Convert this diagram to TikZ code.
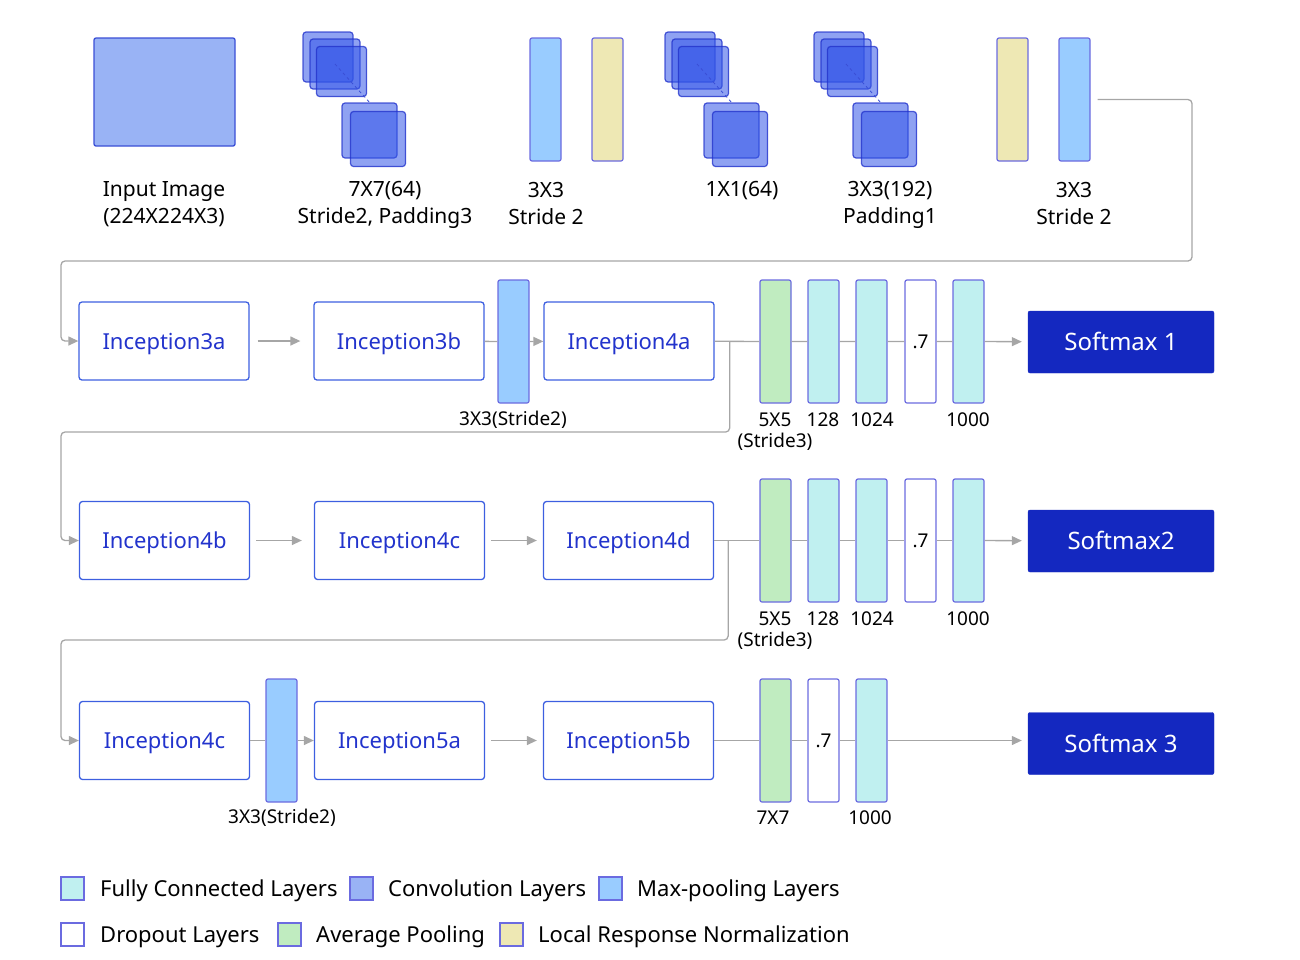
\documentclass[tikz,border=0pt]{standalone}
\usepackage{fontspec}
\setmainfont{Noto Sans}
\usetikzlibrary{arrows.meta}

\definecolor{bordc}{HTML}{6B6BE0}
\definecolor{convb}{HTML}{3A4FD6}
\definecolor{convc}{HTML}{99B3F5}
\definecolor{stackc}{HTML}{3355E8}
\definecolor{poolc}{HTML}{99CCFF}
\definecolor{lrnc}{HTML}{EEE8B4}
\definecolor{fcc}{HTML}{C0F0F0}
\definecolor{avgc}{HTML}{C0ECC0}
\definecolor{incb}{HTML}{3D5FE0}
\definecolor{inct}{HTML}{2233CC}
\definecolor{smc}{HTML}{1428C0}
\definecolor{linec}{HTML}{A6A6A6}

\tikzset{
  layer/.style={draw=bordc, line width=1.2pt, rounded corners=2pt, minimum width=31pt, minimum height=123pt, inner sep=0pt},
  pool/.style={layer, fill=poolc},
  lrn/.style={layer, fill=lrnc},
  fc/.style={layer, fill=fcc},
  avg/.style={layer, fill=avgc},
  drop/.style={layer, fill=white, font=\fontsize{19}{22}\selectfont},
  incep/.style={draw=incb, line width=1.3pt, rounded corners=3pt, minimum width=170pt, minimum height=78pt, text height=16pt, text depth=0pt, text=inct, font=\fontsize{22}{26}\selectfont},
  soft/.style={draw=smc, fill=smc, rounded corners=2pt, minimum width=186pt, minimum height=62pt, text height=17pt, text depth=0pt, text=white, font=\fontsize{24}{28}\selectfont},
  sq/.style={draw=inct, draw opacity=0.8, fill=stackc, fill opacity=0.55, line width=1.2pt, rounded corners=3pt, inner sep=0pt},
  wire/.style={draw=linec, line width=1.3pt},
  conn/.style={wire, -{Triangle[length=10pt,width=9pt]}},
  lab/.style={font=\fontsize{21}{27}\selectfont, align=center},
  note/.style={font=\fontsize{19}{22}\selectfont},
  key/.style={draw=bordc, line width=1.3pt, minimum size=23pt, inner sep=0pt},
  keytext/.style={anchor=west, inner sep=0pt, text height=16pt, text depth=0pt, font=\fontsize{22}{26}\selectfont}
}

\begin{document}
\begin{tikzpicture}[x=1pt, y=-1pt]
\useasboundingbox (0,0) rectangle (1300,959);

% first row: stem of the network
\node[draw=convb, fill=convc, line width=1.3pt, rounded corners=2pt, minimum width=141pt, minimum height=108pt] (img) at (164.5,92) {};
\foreach \dx/\nm in {0/c1, 362/c2, 511/c3} {
  \node[sq, minimum size=50pt] (\nm-1) at (\dx+328,57) {};
  \node[sq, minimum size=50pt] (\nm-2) at (\dx+335,64) {};
  \node[sq, minimum size=50pt] (\nm-3) at (\dx+341.5,71.5) {};
  \node[sq, minimum size=55pt] (\nm-4) at (\dx+369.5,130.5) {};
  \node[sq, minimum size=55pt] (\nm-5) at (\dx+378,139) {};
  \draw[convb, dashed, line width=0.8pt] (\nm-2.center) -- (\nm-4.north);
}
\node[pool] (p0) at (545.5,99.5) {};
\node[lrn] (n0) at (607.5,99.5) {};
\node[lrn] (n1) at (1012.5,99.5) {};
\node[pool] (p1) at (1074.5,99.5) {};

\node[lab] (t1) at (164,204) {Input Image\\(224X224X3)};
\node[lab] (t2) at (385,205) {7X7(64)\\Stride2, Padding3};
\node[lab] (t3) at (546,203) {3X3\\Stride 2};
\node[lab] (t4) at (742,191) {1X1(64)};
\node[lab] (t5) at (890,205) {3X3(192)\\Padding1};
\node[lab] (t6) at (1074,203) {3X3\\Stride 2};

% second row
\node[incep] (i3a) at (164,341) {Inception3a};
\node[incep] (i3b) at (399,341) {Inception3b};
\node[pool] (p2) at (513.5,341.5) {};
\node[incep] (i4a) at (629,341) {Inception4a};
\node[avg] (a1) at (775.5,341.5) {};
\node[fc] (f1) at (823.5,341.5) {};
\node[fc] (f2) at (871.5,341.5) {};
\node[drop] (d1) at (920.5,341.5) {.7};
\node[fc] (f3) at (968.5,341.5) {};
\node[soft] (sm1) at (1121,342) {Softmax 1};

\node[note] at (513,420) {3X3(Stride2)};
\node[note] at (775,420) {5X5};
\node[note] at (775,442) {(Stride3)};
\node[note] at (823,420) {128};
\node[note] at (872,420) {1024};
\node[note] at (968,420) {1000};

% third row
\node[incep] (i4b) at (164.5,540.5) {Inception4b};
\node[incep] (i4c) at (399.5,540.5) {Inception4c};
\node[incep] (i4d) at (628.5,540.5) {Inception4d};
\node[avg] (a2) at (775.5,540.5) {};
\node[fc] (f4) at (823.5,540.5) {};
\node[fc] (f5) at (871.5,540.5) {};
\node[drop] (d2) at (920.5,540.5) {.7};
\node[fc] (f6) at (968.5,540.5) {};
\node[soft] (sm2) at (1121,541) {Softmax2};

\node[note] at (775,619) {5X5};
\node[note] at (775,641) {(Stride3)};
\node[note] at (823,619) {128};
\node[note] at (872,619) {1024};
\node[note] at (968,619) {1000};

% fourth row
\node[incep] (i4e) at (164.5,740.5) {Inception4c};
\node[pool] (p3) at (281.5,740.5) {};
\node[incep] (i5a) at (399.5,740.5) {Inception5a};
\node[incep] (i5b) at (628.5,740.5) {Inception5b};
\node[avg] (a3) at (775.5,740.5) {};
\node[drop] (d3) at (823.5,740.5) {.7};
\node[fc] (f7) at (871.5,740.5) {};
\node[soft] (sm3) at (1121,743.5) {Softmax 3};

\node[note] at (282,818) {3X3(Stride2)};
\node[note] at (773,818) {7X7};
\node[note] at (870,818) {1000};

% connectors
\draw[conn, rounded corners=4pt] ([xshift=7pt]p1.east) -| (1192,261) -| (61,341) -- (i3a.west);
\draw[conn, shorten <=8pt, shorten >=13pt] (i3a) -- (i3b);
\draw[wire] (i3b) -- (p2);
\draw[conn] (p2) -- (i4a);
\draw[wire] (i4a) -- (a1) -- (f1) -- (f2) -- (d1) -- (f3);
\draw[conn, shorten >=6pt] (f3) -- (sm1);
\draw[conn, rounded corners=4pt] ([xshift=15pt]i4a.east) |- (61,432) |- (i4b.west);

\draw[conn, shorten <=6pt, shorten >=12pt] (i4b) -- (i4c);
\draw[conn, shorten <=6pt, shorten >=6pt] (i4c) -- (i4d);
\draw[wire] (i4d) -- (a2) -- (f4) -- (f5) -- (d2) -- (f6);
\draw[conn, shorten >=6pt] (f6) -- (sm2);
\draw[conn, rounded corners=4pt] ([xshift=14pt]i4d.east) |- (61,640) |- (i4e.west);

\draw[wire] (i4e) -- (p3);
\draw[conn] (p3) -- (i5a);
\draw[conn, shorten <=6pt, shorten >=6pt] (i5a) -- (i5b);
\draw[wire] (i5b) -- (a3) -- (d3) -- (f7);
\draw[conn, shorten >=6pt] (f7.east) -- (f7.east -| sm3.west);

% legend
\node[key, fill=fcc] (k1) at (72.5,888.5) {};
\node[keytext] at (100,888.5) {Fully Connected Layers};
\node[key, fill=convc] (k2) at (361.5,888.5) {};
\node[keytext] at (388,888.5) {Convolution Layers};
\node[key, fill=poolc] (k3) at (610.5,888.5) {};
\node[keytext] at (637,888.5) {Max-pooling Layers};
\node[key, fill=white] (k4) at (72.5,934.5) {};
\node[keytext] at (100,934.5) {Dropout Layers};
\node[key, fill=avgc] (k5) at (289.5,934.5) {};
\node[keytext] at (316,934.5) {Average Pooling};
\node[key, fill=lrnc] (k6) at (511.5,934.5) {};
\node[keytext] at (538,934.5) {Local Response Normalization};
\end{tikzpicture}
\end{document}
